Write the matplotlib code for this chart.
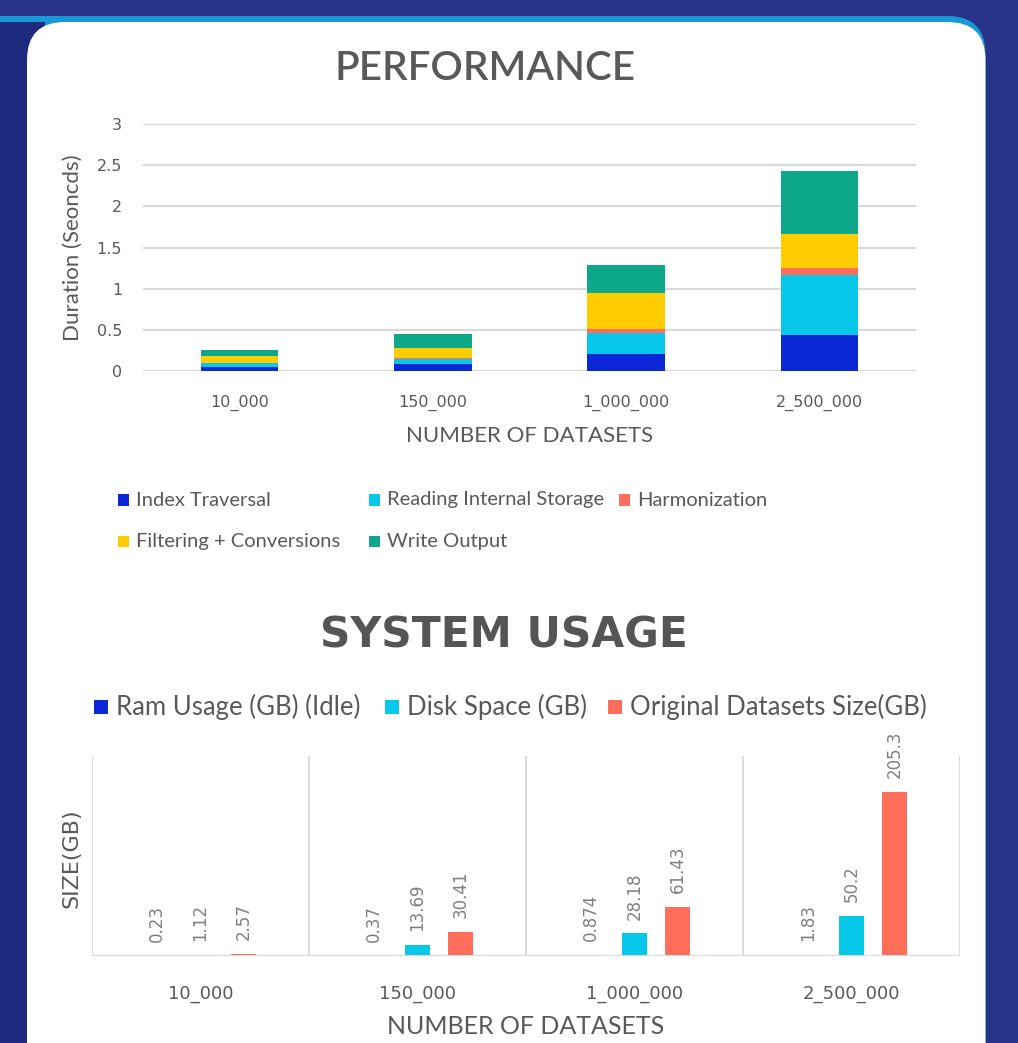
import numpy as np
import matplotlib
matplotlib.use('Agg')
import matplotlib.pyplot as plt
from matplotlib.patches import FancyBboxPatch, Rectangle

W, H = 1018, 1043

categories = ['10_000', '150_000', '1_000_000', '2_500_000']

# performance, seconds per step (stacked)
index_traversal = [0.05, 0.08, 0.21, 0.44]
reading_storage = [0.045, 0.07, 0.255, 0.725]
harmonization = [0.005, 0.005, 0.05, 0.085]
filtering = [0.085, 0.125, 0.43, 0.41]
write_output = [0.075, 0.17, 0.34, 0.77]

perf_labels = ['Index Traversal', 'Reading Internal Storage', 'Harmonization',
               'Filtering + Conversions', 'Write Output']
perf_colors = ['#0a28d6', '#07c8e8', '#ff6e5a', '#ffcc00', '#0da789']

# system usage, GB
ram_usage = [0.23, 0.37, 0.874, 1.83]
disk_space = [1.12, 13.69, 28.18, 50.2]
original_size = [2.57, 30.41, 61.43, 205.3]

usage_labels = ['Ram Usage (GB) (Idle)', 'Disk Space (GB)', 'Original Datasets Size(GB)']
usage_colors = ['#0a28d6', '#07c8e8', '#ff6e5a']

GREY = '#595959'
TICKFONT = 'DejaVu Sans'
plt.rcParams['font.family'] = ['Lato', 'DejaVu Sans']

fig = plt.figure(figsize=(W / 100, H / 100), dpi=100)
fig.patch.set_facecolor('#28338a')
inch = fig.dpi_scale_trans


def px(x, y):
    # pixel position (top-left origin) -> figure fraction
    return x / W, 1 - y / H


def rbox(x0, y0, x1, y1, color, z, r=0.38):
    # rounded box, pixel coords with top-left origin
    p = FancyBboxPatch((x0 / 100, (H - y1) / 100), (x1 - x0) / 100, (y1 - y0) / 100,
                       boxstyle='round,pad=0,rounding_size=%s' % r,
                       transform=inch, fc=color, ec='none', zorder=z)
    fig.add_artist(p)


# background: light blue strip, darker left edge, white card
rbox(-80, 16, 985.5, 1080, '#1a98d5', -3)
fig.add_artist(Rectangle((0, 0), 0.45, (H - 22) / 100, transform=inch,
                         fc='#1e2a7d', ec='none', zorder=-2))
rbox(27, 22, 985.5, 1080, 'white', -1)


def legend_item(x, y, size, color, text, fontsize, gap):
    fig.add_artist(Rectangle(((x - size / 2) / 100, (H - y - size / 2) / 100),
                             size / 100, size / 100, transform=inch,
                             fc=color, ec='none'))
    fig.text(*px(x + gap, y), text, color=GREY, fontsize=fontsize,
             ha='left', va='center')


# ---------------- PERFORMANCE ----------------
fig.text(*px(485, 68), 'PERFORMANCE', color=GREY, fontsize=29,
         fontweight='semibold', ha='center', va='center')

ax1 = fig.add_axes([143 / W, 1 - 371 / H, 773 / W, 247 / H])
ax1.set_facecolor('none')
x = np.arange(len(categories))
bottom = np.zeros(len(categories))
for vals, c, lab in zip([index_traversal, reading_storage, harmonization, filtering, write_output],
                        perf_colors, perf_labels):
    ax1.bar(x, vals, 0.4, bottom=bottom, color=c, label=lab, zorder=3)
    bottom += np.array(vals)

ax1.set_xlim(-0.5, 3.5)
ax1.set_ylim(0, 3)
ax1.set_yticks(np.arange(0, 3.01, 0.5))
ax1.set_yticklabels(['0', '0.5', '1', '1.5', '2', '2.5', '3'])
ax1.set_xticks(x)
ax1.set_xticklabels(categories)
ax1.yaxis.grid(True, color='#d9d9d9', lw=1.5, zorder=0)
for s in ax1.spines.values():
    s.set_visible(False)
ax1.tick_params(axis='y', length=0, pad=15, labelsize=11.5, labelcolor=GREY)
ax1.tick_params(axis='x', length=0, pad=17, labelsize=11.5, labelcolor=GREY)
for t in ax1.get_xticklabels() + ax1.get_yticklabels():
    t.set_fontfamily(TICKFONT)
ax1.set_xlabel('NUMBER OF DATASETS', fontsize=16, color=GREY, va='center')
ax1.xaxis.set_label_coords(0.5, (371 - 436) / 247)
ax1.set_ylabel('Duration (Seoncds)', fontsize=16, color=GREY, va='center')
ax1.yaxis.set_label_coords((73 - 143) / 773, 0.5)

# legend (Excel style, two rows)
leg_pos = [(123, 500), (374, 500), (624, 500), (123, 541), (374, 541)]
for (lx, ly), c, lab in zip(leg_pos, perf_colors, perf_labels):
    legend_item(lx, ly, 11, c, lab, 14.5, 13)

# ---------------- SYSTEM USAGE ----------------
fig.text(*px(504, 636), 'SYSTEM USAGE', color='#555555', fontsize=30.5,
         fontweight='bold', family='DejaVu Sans', ha='center', va='center')

for (lx, c, lab) in zip([101, 392, 615], usage_colors, usage_labels):
    legend_item(lx, 707, 14, c, lab, 18.5, 15)

ax2 = fig.add_axes([92 / W, 1 - 956 / H, 868 / W, 200 / H])
ax2.set_facecolor('none')
offsets = [-0.2, 0.0, 0.2]
for vals, off, c, lab in zip([ram_usage, disk_space, original_size], offsets,
                             usage_colors, usage_labels):
    bars = ax2.bar(x + off, vals, 0.115, color=c, label=lab, zorder=3)
    ax2.bar_label(bars, labels=[str(v) for v in vals], rotation=90, padding=10,
                  fontsize=12, color='#7f7f7f', family=TICKFONT)

ax2.set_xlim(-0.5, 3.5)
ax2.set_ylim(0, 250)
ax2.vlines(np.arange(-0.5, 3.6, 1), 0, 250, color='#d9d9d9', lw=1.3, zorder=1)
ax2.axhline(0, color='#d9d9d9', lw=2.2, zorder=4)
for s in ax2.spines.values():
    s.set_visible(False)
ax2.set_yticks([])
ax2.set_xticks(x)
ax2.set_xticklabels(categories)
ax2.tick_params(axis='x', length=0, pad=21, labelsize=13, labelcolor=GREY)
for t in ax2.get_xticklabels():
    t.set_fontfamily(TICKFONT)
ax2.set_xlabel('NUMBER OF DATASETS', fontsize=18, color=GREY, va='center')
ax2.xaxis.set_label_coords(0.5, (956 - 1027) / 200)
ax2.set_ylabel('SIZE(GB)', fontsize=16, color=GREY, va='center', family=TICKFONT)
ax2.yaxis.set_label_coords((72 - 92) / 868, 0.49)

fig.savefig('out.png', dpi=100, facecolor=fig.get_facecolor())
